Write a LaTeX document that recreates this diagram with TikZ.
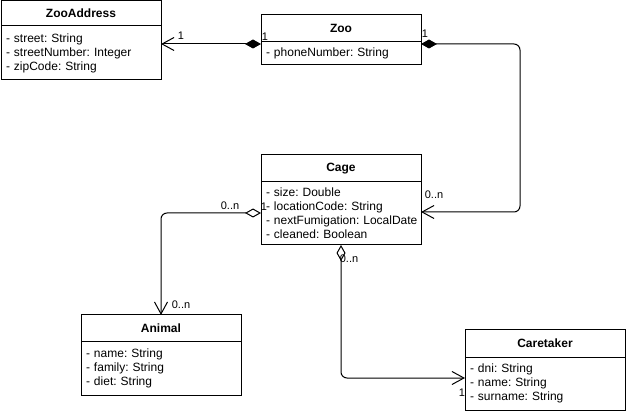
\documentclass[tikz,border=0pt]{standalone}
\usepackage{fontspec}
\setmainfont{Liberation Sans}
\usetikzlibrary{positioning,arrows.meta}

\begin{document}
\begin{tikzpicture}[
  x=1pt, y=-1pt,
  line width=1pt,
  classhead/.style={%
    rectangle,%
    draw=black,
    anchor=north west,
    minimum width=160pt,%
    outer sep=0pt,
    font=\bfseries\fontsize{12}{14}\selectfont
  },
  classbody/.style={%
    rectangle,%
    draw=black,
    minimum width=160pt,
    text width=158pt,
    inner xsep=1pt,
    outer sep=0pt,
    align=left,
    font=\fontsize{12}{14}\selectfont\frenchspacing
  },
  mult/.style={%
    inner sep=0pt,
    font=\fontsize{11}{13}\selectfont
  },
  compo/.style={%
    rounded corners=6pt,
    {Diamond[length=16pt,width=9pt]}-{Straight Barb[length=12pt,width=13pt]}
  },
  aggr/.style={%
    rounded corners=6pt,
    {Diamond[open,length=16pt,width=9pt]}-{Straight Barb[length=12pt,width=13pt]}
  }
]

  \useasboundingbox (0,0) rectangle (627,414);

  % classes
  \node [classhead, minimum height=25pt] (zaddr) at (1,1) {ZooAddress};
  \node [classbody, minimum height=54pt, below=0pt of zaddr] (zaddr-a)
    {\ - street: String\\\ - streetNumber: Integer\\\ - zipCode: String};

  \node [classhead, minimum height=27pt] (zoo) at (261,15) {Zoo};
  \node [classbody, minimum height=23pt, below=0pt of zoo] (zoo-a)
    {\ - phoneNumber: String};

  \node [classhead, minimum height=27pt] (cage) at (261,155) {Cage};
  \node [classbody, minimum height=63pt, below=0pt of cage] (cage-a)
    {\ - size: Double\\\ - locationCode: String\\\ - nextFumigation: LocalDate\\\ - cleaned: Boolean};

  \node [classhead, minimum height=26pt] (animal) at (81,315) {Animal};
  \node [classbody, minimum height=54pt, below=0pt of animal] (animal-a)
    {\ - name: String\\\ - family: String\\\ - diet: String};

  \node [classhead, minimum height=27pt] (ctaker) at (465,330) {Caretaker};
  \node [classbody, minimum height=53pt, below=0pt of ctaker] (ctaker-a)
    {\ - dni: String\\\ - name: String\\\ - surname: String};

  % associations
  \coordinate (zoo-w) at ([yshift=-2pt]zoo-a.north west);
  \draw [compo] (zoo-w) -- (zaddr-a.east |- zoo-w);
  \draw [compo] ([yshift=-2pt]zoo-a.north east) -- ++(99,0)
    |- ([yshift=-30pt]cage-a.north east);
  \draw [aggr] ([yshift=-31pt]cage-a.north west) -| (animal.north);
  \draw [aggr] (cage-a.south) |- ([yshift=-21pt]ctaker-a.north west);

  % multiplicities
  \node [mult] (m1) at (181,36) {1};
  \node [mult] (m2) at (265,37) {1};
  \node [mult] (m3) at (425,34) {1};
  \node [mult] (m4) at (434,195) {0..n};
  \node [mult] (m5) at (230,206) {0..n};
  \node [mult] (m6) at (264,207) {1};
  \node [mult] (m7) at (181,305) {0..n};
  \node [mult] (m8) at (349,259) {0..n};
  \node [mult] (m9) at (462,393) {1};

\end{tikzpicture}
\end{document}
